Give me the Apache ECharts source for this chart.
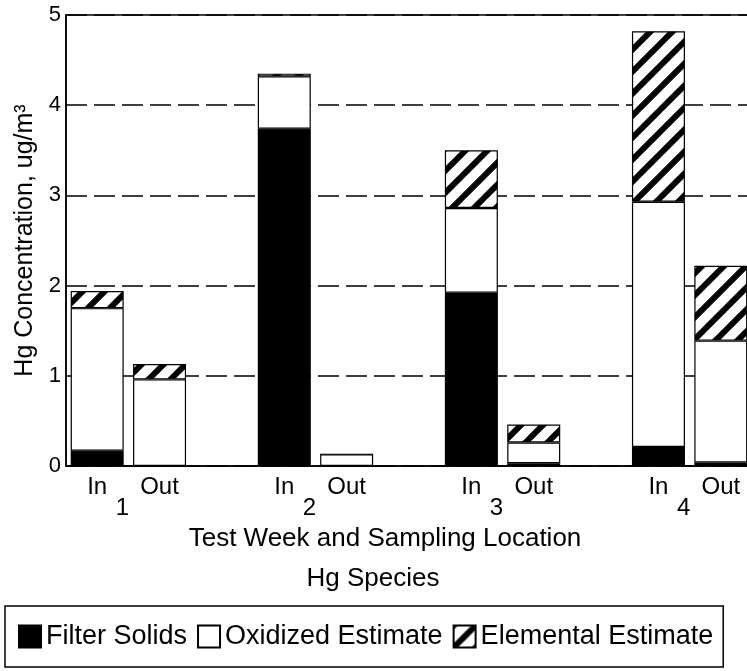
<!DOCTYPE html>
<html><head><meta charset="utf-8">
<script src="https://cdn.jsdelivr.net/npm/echarts@6/dist/echarts.min.js"></script>
<style>html,body{margin:0;padding:0;background:#fff}#c{width:747px;height:671px}</style>
</head><body><div id="c"></div>
<script>
// slots: In/Out per week with a blank slot between weeks
const slotLabels = ['In','Out','','In','Out','','In','Out','','In','Out'];
const weekLabels = ['','1','','','2','','','3','','','4',''];
const filterSolids = [0.17, 0, null, 3.74, 0, null, 1.92, 0.03, null, 0.21, 0.04];
const oxidizedEstimate = [1.58, 0.96, null, 0.58, 0.13, null, 0.94, 0.23, null, 2.72, 1.35];
const elementalEstimate = [0.19, 0.17, null, 0.03, 0, null, 0.64, 0.20, null, 1.89, 0.83];
const yMax = 5, yStep = 1;

const FONT = 'Liberation Sans, Arial, Helvetica, sans-serif';

function hatch(){
  const P = 22, c = document.createElement('canvas');
  c.width = P; c.height = P;
  const g = c.getContext('2d');
  g.fillStyle = '#fff'; g.fillRect(0,0,P,P);
  g.strokeStyle = '#000'; g.lineWidth = 6;
  for (const k of [0, P, 2*P]) { g.beginPath(); g.moveTo(k-P-2, P+2); g.lineTo(k+2, -2); g.stroke(); }
  return c;
}

const chart = echarts.init(document.getElementById('c'), null, {renderer:'canvas'});
const barW = 53;
chart.setOption({
  animation: false,
  backgroundColor: '#fff',
  textStyle: {fontFamily: FONT, color: '#000'},
  title: [
    {text: 'Test Week and Sampling Location', left: 385, top: 526, textAlign: 'center', padding: 0,
     textStyle: {fontFamily: FONT, fontSize: 26, fontWeight: 'normal', color: '#000'}},
    {text: 'Hg Species', left: 373, top: 566, textAlign: 'center', padding: 0,
     textStyle: {fontFamily: FONT, fontSize: 26, fontWeight: 'normal', color: '#000'}}
  ],
  legend: {
    left: 5, top: 606, orient: 'horizontal',
    padding: [17, 10, 17, 13],
    borderColor: '#000', borderWidth: 1.5,
    itemWidth: 22, itemHeight: 22, itemGap: 10,
    icon: 'rect',
    selectedMode: false,
    textStyle: {fontFamily: FONT, fontSize: 27, color: '#000'},
    data: ['Filter Solids', 'Oxidized Estimate', 'Elemental Estimate']
  },
  grid: {left: 66, right: -5, top: 15, bottom: 205, outerBoundsMode: 'none', containLabel: false,
         show: true, borderColor: '#000', borderWidth: 1.5, backgroundColor: 'transparent'},
  xAxis: [
    {type: 'category', data: slotLabels, boundaryGap: true,
     axisLine: {show: true, lineStyle: {color: '#000', width: 1.5}},
     axisTick: {show: false},
     axisLabel: {interval: 0, margin: 9, fontFamily: FONT, fontSize: 24, color: '#000'}},
    {type: 'category', data: weekLabels, boundaryGap: false, position: 'bottom',
     axisLine: {show: false}, axisTick: {show: false}, splitLine: {show: false},
     axisLabel: {interval: 0, margin: 30, fontFamily: FONT, fontSize: 24, color: '#000', padding: [0, 12, 0, 0]}}
  ],
  yAxis: {
    type: 'value', min: 0, max: yMax, interval: yStep,
    name: 'Hg Concentration, ug/m³', nameLocation: 'middle', nameGap: 28,
    nameTextStyle: {fontFamily: FONT, fontSize: 25, color: '#000'},
    axisLine: {show: true, lineStyle: {color: '#000', width: 1.5}},
    axisTick: {show: false},
    axisLabel: {margin: 5, fontFamily: FONT, fontSize: 22, color: '#000'},
    splitLine: {show: true, lineStyle: {color: '#000', width: 1.5, type: [21, 7]}}
  },
  series: [
    {name: 'Filter Solids', type: 'bar', stack: 'hg', barWidth: barW, data: filterSolids,
     itemStyle: {color: '#000', borderColor: '#000', borderWidth: 1.2}},
    {name: 'Oxidized Estimate', type: 'bar', stack: 'hg', barWidth: barW, data: oxidizedEstimate,
     itemStyle: {color: '#fff', borderColor: '#000', borderWidth: 1.2}},
    {name: 'Elemental Estimate', type: 'bar', stack: 'hg', barWidth: barW, data: elementalEstimate,
     itemStyle: {color: {image: hatch(), repeat: 'repeat'}, borderColor: '#000', borderWidth: 1.2}}
  ]
});
</script></body></html>
